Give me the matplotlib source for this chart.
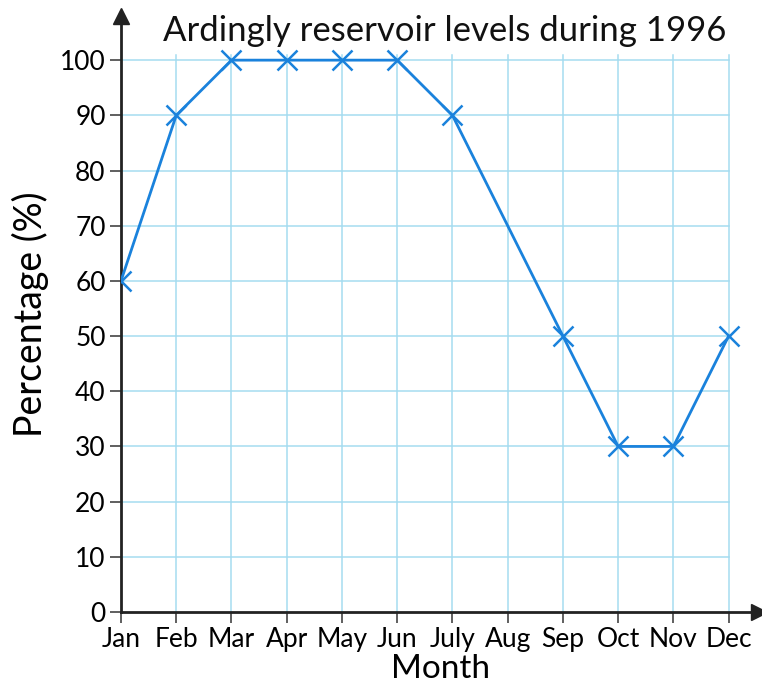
import matplotlib.pyplot as plt

months = ["Jan", "Feb", "Mar", "Apr", "May", "Jun", "July", "Aug", "Sep", "Oct", "Nov", "Dec"]
# Aug has no plotted point, the line joins July to Sep directly
levels = [60, 90, 100, 100, 100, 100, 90, None, 50, 30, 30, 50]
y_ticks = [0, 10, 20, 30, 40, 50, 60, 70, 80, 90, 100]

plt.rcParams['font.family'] = ['Lato', 'DejaVu Sans']

fig = plt.figure(figsize=(7.62, 6.91), dpi=100)
ax = fig.add_axes([121 / 762, 79 / 691, 638 / 762, 596 / 691])

xs = [i for i, v in enumerate(levels) if v is not None]
ys = [v for v in levels if v is not None]

grid_col = "#a5dcf0"
for y in y_ticks[1:]:
    ax.plot([0, len(months) - 1], [y, y], color=grid_col, lw=1.1, zorder=1)
for i in range(1, len(months)):
    ax.plot([i, i], [0, 101], color=grid_col, lw=1.1, zorder=1)

ax.plot(xs, ys, color="#1a82dc", lw=2, marker="x", ms=15, mew=1.8, zorder=3)

ax.set_xlim(0, 11.55)
ax.set_ylim(0, 108)
for s in ["top", "right"]:
    ax.spines[s].set_visible(False)
for s in ["left", "bottom"]:
    ax.spines[s].set_linewidth(2)
    ax.spines[s].set_color("#222222")

# arrow heads on the axes
ax.plot(1, 0, ">", ms=12, color="#222222", transform=ax.transAxes, clip_on=False)
ax.plot(0, 1, "^", ms=12, color="#222222", transform=ax.transAxes, clip_on=False)

ax.set_xticks(range(len(months)))
ax.set_xticklabels(months, fontsize=19)
ax.set_yticks(y_ticks)
ax.set_yticklabels([str(v) for v in y_ticks], fontsize=19)
ax.tick_params(length=8, width=1.2, color="#444444", pad=3)

ax.set_xlabel("Month", fontsize=24, labelpad=1)
ax.set_ylabel("Percentage (%)", fontsize=27, labelpad=8)

fig.text(0.584, 0.955, "Ardingly reservoir levels during 1996", fontsize=25,
         ha="center", va="center", color="#111111")

fig.savefig("out.png", dpi=100)
